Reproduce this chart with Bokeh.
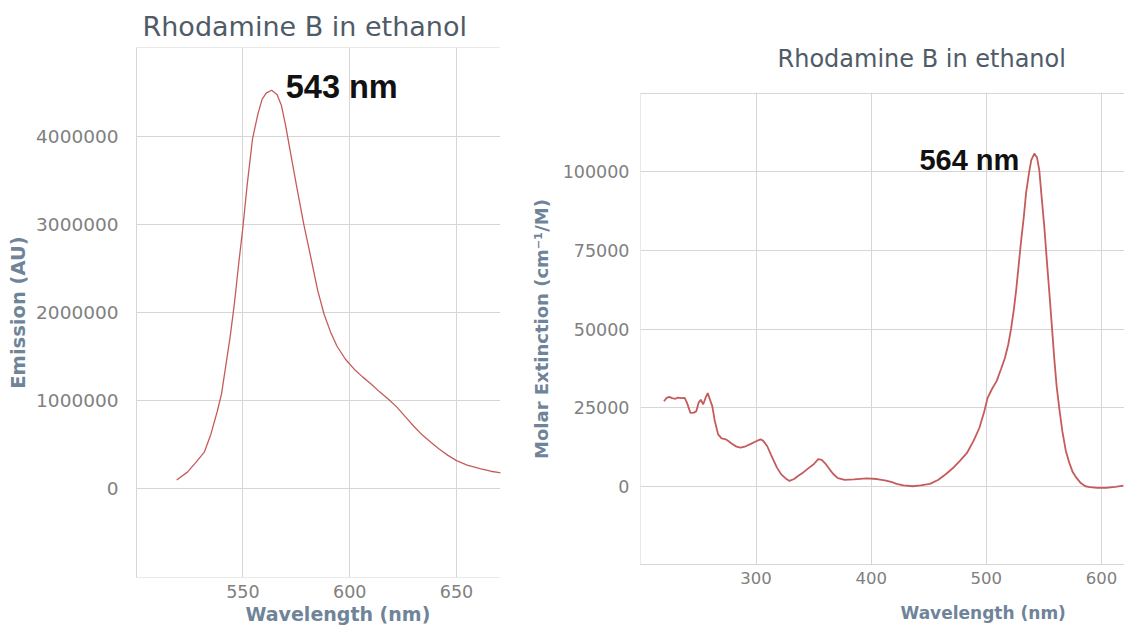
from bokeh.plotting import figure
from bokeh.layouts import row, column
from bokeh.models import (FixedTicker, NumeralTickFormatter, Title, Range1d, Spacer,
                          LinearAxis)
from bokeh.core.properties import value
from bokeh.embed import file_html
from bokeh.resources import INLINE

# ---------------- data ----------------
em_wavelength = [519, 524, 528, 532, 535, 538, 540, 542, 544, 546, 548, 550, 552, 554.5,
                 557, 559, 561, 563.5, 566, 568, 570, 572, 575, 578.5, 582, 585, 588, 591,
                 594, 598, 602, 606, 610, 614, 618, 622, 626, 630, 634, 638, 642, 646, 650,
                 655, 661, 666, 671]
em_intensity = [100000, 190000, 300000, 420000, 620000, 880000, 1080000, 1400000, 1720000,
                2100000, 2550000, 2970000, 3450000, 3970000, 4250000, 4420000, 4490000,
                4520000, 4470000, 4350000, 4120000, 3850000, 3450000, 3000000, 2600000,
                2250000, 1980000, 1780000, 1620000, 1470000, 1360000, 1270000, 1190000,
                1100000, 1020000, 930000, 820000, 710000, 610000, 530000, 450000, 380000,
                320000, 270000, 230000, 200000, 180000]

abs_wavelength = [220, 222, 224.5, 227, 230, 232, 235, 238, 240, 243, 246, 248, 250, 252,
                  254, 256, 258, 260, 262, 264, 267, 270, 273, 275, 279, 283, 286.5, 291,
                  295, 300, 303.8, 306, 309.6, 313, 318, 322, 326, 329, 333, 337, 341, 345,
                  350, 354, 357, 360, 364, 367, 371, 377, 385, 396, 405, 413, 418, 422, 428,
                  436, 443, 451, 458, 465, 471, 477, 483, 489, 494, 498, 501, 505, 509, 513,
                  516, 519, 521.5, 524, 526, 528, 530, 532.5, 534.5, 537, 539, 541.7, 544,
                  546, 548, 550.3, 552.5, 554.7, 557, 559, 561, 563.3, 566, 569, 572, 575,
                  578, 582, 586, 590, 596, 604, 612, 619]
abs_extinction = [27000, 28000, 28400, 28000, 27800, 28200, 28000, 28100, 26500, 23300,
                  23400, 23800, 26500, 27500, 26000, 28000, 29600, 27500, 25400, 21000,
                  16500, 15200, 15000, 14600, 13500, 12600, 12300, 12700, 13400, 14300,
                  14900, 14500, 12800, 10000, 6000, 3700, 2400, 1700, 2300, 3400, 4400,
                  5600, 7000, 8600, 8400, 7300, 5300, 3900, 2600, 2000, 2200, 2500, 2300,
                  1800, 1300, 760, 300, 0, 300, 760, 2000, 3900, 5800, 8100, 10500, 14500,
                  18600, 23500, 28000, 31000, 33500, 37500, 40600, 45000, 50100, 56500,
                  62700, 70000, 77400, 85500, 93200, 99500, 103700, 105800, 104500, 100500,
                  92000, 82700, 72000, 61700, 50500, 40600, 32000, 24900, 17500, 11300,
                  7500, 4500, 2800, 1000, 0, -300, -500, -500, -200, 200]

em_x_ticks = [550, 600, 650]
em_y_ticks = [0, 1000000, 2000000, 3000000, 4000000]
em_grid_x = [500, 550, 600, 650]
em_grid_y = [-1000000, 0, 1000000, 2000000, 3000000, 4000000, 5000000]

abs_x_ticks = [300, 400, 500, 600]
abs_y_ticks = [0, 25000, 50000, 75000, 100000]
abs_grid_x = [200, 300, 400, 500, 600]
abs_grid_y = [-25000, 0, 25000, 50000, 75000, 100000, 125000]

title_text = "Rhodamine B in ethanol"
em_peak_label = "543 nm"
abs_peak_label = "564 nm"
em_x_label = "Wavelength (nm)"
em_y_label = "Emission (AU)"
abs_x_label = "Wavelength (nm)"
abs_y_label = "Molar Extinction (cm\u207b\u00b9/M)"

# ---------------- style ----------------
LINE = "#c65b5b"
GRID = "#d6d6d6"
TITLE_C = "#4f5b67"
AXLBL_C = "#6f8499"
TICK_C = "#808080"
FONT = "DejaVu Sans"


def style(p, xt, yt, gx, gy, xtick_size, ytick_size, ystand, ylabel_size, ylabel_stand, xstand):
    p.xaxis.ticker = FixedTicker(ticks=xt)
    p.yaxis.ticker = FixedTicker(ticks=yt)
    p.xgrid.ticker = FixedTicker(ticks=gx)
    p.ygrid.ticker = FixedTicker(ticks=gy)
    for g in (p.xgrid, p.ygrid):
        g.grid_line_color = GRID
        g.grid_line_width = 1
    p.yaxis.formatter = NumeralTickFormatter(format="0")
    for ax in (p.xaxis, p.yaxis):
        ax.axis_line_color = None
        ax.major_tick_line_color = None
        ax.minor_tick_line_color = None
        ax.major_tick_out = 0
        ax.major_tick_in = 0
        ax.major_label_text_color = TICK_C
        ax.major_label_text_font = FONT
        ax.axis_label_text_color = AXLBL_C
        ax.axis_label_text_font = FONT
        ax.axis_label_text_font_style = "bold"
    p.xaxis.major_label_text_font_size = xtick_size
    p.yaxis.major_label_text_font_size = ytick_size
    p.yaxis.major_label_standoff = ystand
    p.yaxis.axis_label_text_font_size = ylabel_size
    p.yaxis.axis_label_standoff = ylabel_stand
    p.xaxis.major_label_standoff = xstand
    p.outline_line_color = None
    p.background_fill_color = "white"
    p.border_fill_color = "white"


def gap_axis(tick, size):
    # an axis with an invisible tick, used only as vertical space above the x title
    return LinearAxis(ticker=FixedTicker(ticks=[tick]), axis_line_color=None,
                      major_tick_line_color=None, minor_tick_line_color=None,
                      major_tick_out=size, major_tick_in=0, major_label_standoff=0,
                      major_label_overrides={tick: ""},
                      major_label_text_font_size="1px")


# ---------------- left: emission ----------------
p1 = figure(width=520, height=627, output_backend="svg", toolbar_location=None,
            x_range=Range1d(499.7, 670.6), y_range=Range1d(-1005000, 5005000),
            min_border_left=135, min_border_right=20, min_border_top=47,
            min_border_bottom=50)
p1.title = None
style(p1, em_x_ticks, em_y_ticks, em_grid_x, em_grid_y, "17.5px", "18.5px", 17, "19.5px", 3, 7)
p1.yaxis.axis_label = em_y_label
p1.add_layout(Title(text=title_text, align="left", offset=7, standoff=11,
                    text_font=FONT, text_font_size="27px", text_font_style="normal",
                    text_color=TITLE_C), "above")
p1.add_layout(Title(text=em_x_label, align="left", offset=110, standoff=0,
                    text_font=FONT, text_font_size="19px", text_font_style="bold",
                    text_color=AXLBL_C), "below")
p1.line(em_wavelength, em_intensity, line_color=LINE, line_width=1.3)
i1 = max(range(len(em_intensity)), key=lambda i: em_intensity[i])
p1.text(x=[em_wavelength[i1]], y=[em_intensity[i1]], text=[em_peak_label],
        text_font=value("Liberation Sans"), text_font_style="bold",
        text_font_size="32.5px", text_color="#111111", text_align="left",
        text_baseline="middle", x_offset=14, y_offset=-3)

# ---------------- right: absorption ----------------
p2 = figure(width=604, height=605, output_backend="svg", toolbar_location=None,
            x_range=Range1d(199.6, 620.0), y_range=Range1d(-25200, 125200),
            min_border_left=120, min_border_right=0, min_border_top=68,
            min_border_bottom=62)
p2.title = None
style(p2, abs_x_ticks, abs_y_ticks, abs_grid_x, abs_grid_y, "16.5px", "17.5px", 11, "18px", 8, 6)
p2.yaxis.axis_label = abs_y_label
p2.add_layout(Title(text=title_text, align="left", offset=137, standoff=40,
                    text_font=FONT, text_font_size="24px", text_font_style="normal",
                    text_color=TITLE_C), "above")
p2.add_layout(gap_axis(abs_x_ticks[1], 14), "below")
p2.add_layout(Title(text=abs_x_label, align="left", offset=260, standoff=0,
                    text_font=FONT, text_font_size="17px", text_font_style="bold",
                    text_color=AXLBL_C), "below")
p2.line(abs_wavelength, abs_extinction, line_color=LINE, line_width=1.8)
i2 = max(range(len(abs_extinction)), key=lambda i: abs_extinction[i])
p2.text(x=[abs_wavelength[i2]], y=[abs_extinction[i2]], text=[abs_peak_label],
        text_font=value("Liberation Sans"), text_font_style="bold",
        text_font_size="29px", text_color="#111111", text_align="right",
        text_baseline="middle", x_offset=-15, y_offset=6)

right_col = column(Spacer(width=604, height=22), p2)
layout = row(p1, right_col)
open("out.html", "w").write(file_html(layout, INLINE))
